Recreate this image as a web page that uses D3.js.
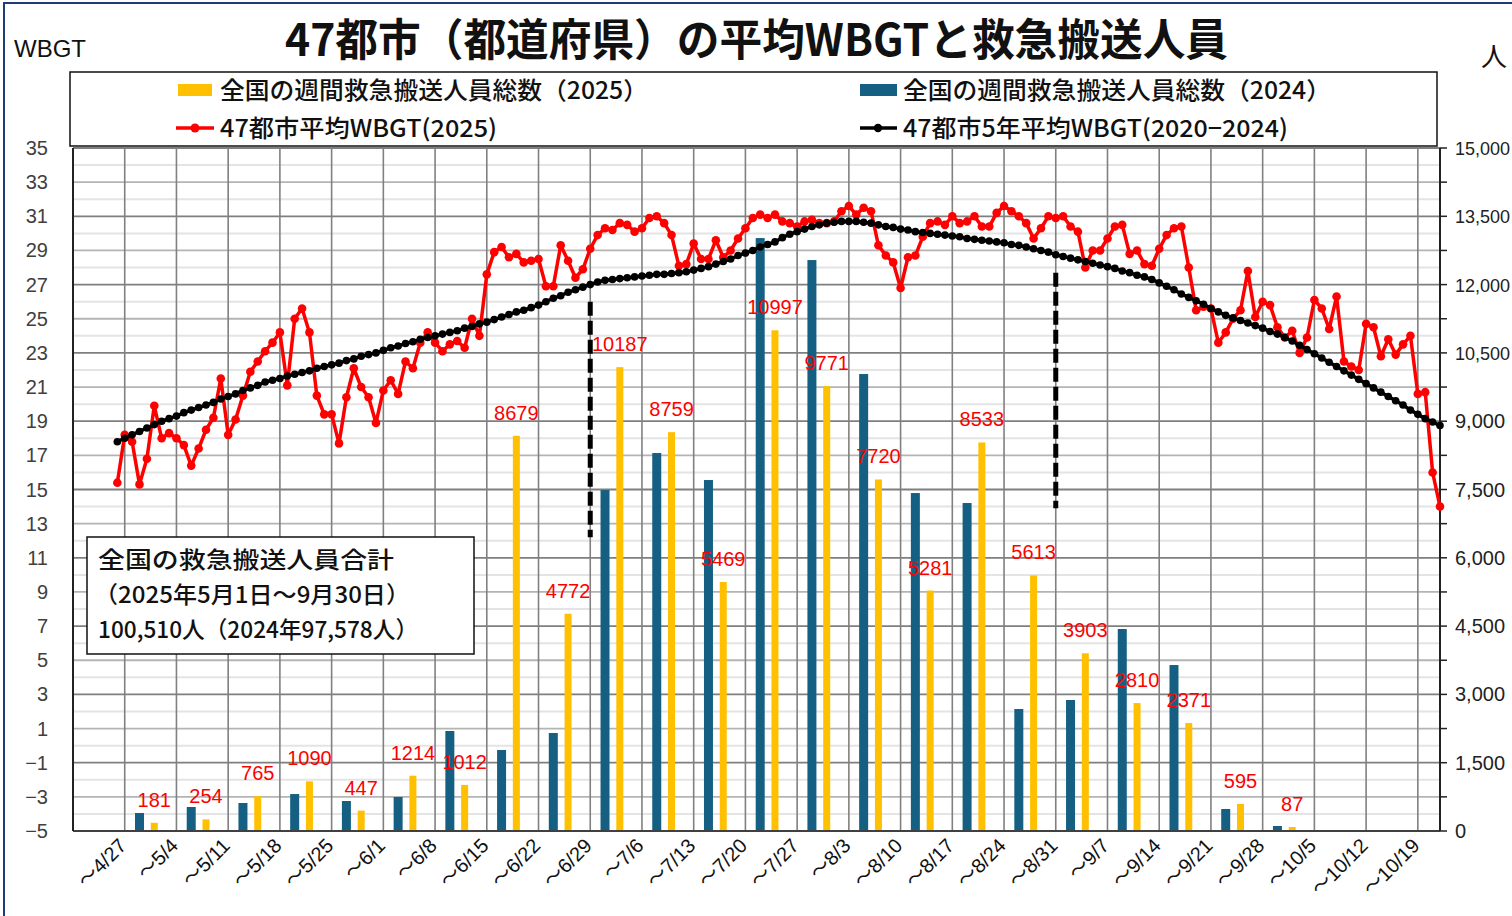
<!DOCTYPE html>
<html>
<head>
<meta charset="utf-8">
<script src="https://cdn.jsdelivr.net/npm/d3@7"></script>
<style>
body{margin:0;background:#fff}
svg{display:block}
</style>
</head>
<body>
<script>
var width = 1512, height = 916;
var plot = {left:73, right:1440, top:148, bottom:831};

// weekly categories (week ending date) and weekly emergency transport counts
var weekLabels = ["～4/27","～5/4","～5/11","～5/18","～5/25","～6/1","～6/8","～6/15","～6/22","～6/29",
  "～7/6","～7/13","～7/20","～7/27","～8/3","～8/10","～8/17","～8/24","～8/31","～9/7",
  "～9/14","～9/21","～9/28","～10/5","～10/12","～10/19"];
var transport2025 = [null,181,254,765,1090,447,1214,1012,8679,4772,
  10187,8759,5469,10997,9771,7720,5281,8533,5613,3903,
  2810,2371,595,87,null,null];
var transport2024 = [null,395,527,615,812,659,747,2196,1779,2152,
  7488,8301,7708,13022,12539,10036,7422,7203,2679,2877,
  4436,3645,483,110,null,null];

// daily WBGT, from 4/26 to 10/22
var wbgtStart = new Date(2025,3,26);
var wbgt2025 = [
  15.4,18.2,17.8,15.3,16.8,19.9,18.0,18.3,18.0,17.6,
  16.4,17.4,18.5,19.2,21.5,18.2,19.1,20.5,21.9,22.5,
  23.1,23.6,24.2,21.1,25.0,25.6,24.2,20.5,19.4,19.4,
  17.7,20.4,22.1,21.0,20.4,18.9,20.8,21.4,20.6,22.5,
  22.1,23.6,24.2,23.6,23.1,23.5,23.7,23.3,25.0,24.0,
  27.6,28.9,29.2,28.6,28.8,28.3,28.4,28.5,26.9,26.9,
  29.3,28.4,27.4,27.9,29.1,29.9,30.3,30.2,30.6,30.5,
  30.1,30.3,30.9,31.0,30.6,29.9,28.1,28.2,29.4,28.5,
  28.5,29.6,28.6,29.0,29.7,30.3,30.9,31.1,30.9,31.1,
  30.7,30.6,30.4,30.7,30.8,30.6,30.6,30.7,31.3,31.6,
  31.1,31.5,31.3,29.3,28.7,28.3,26.8,28.6,28.7,29.8,
  30.6,30.7,30.5,31.0,30.6,30.7,31.0,30.4,30.4,31.2,
  31.6,31.3,31.0,30.6,29.7,30.3,31.0,30.9,31.0,30.4,
  30.1,28.0,29.0,29.0,29.7,30.4,30.5,28.8,29.0,28.2,
  28.1,29.1,29.9,30.3,30.4,28.0,25.5,25.7,25.6,23.6,
  24.2,25.0,25.5,27.8,25.1,26.0,25.8,24.5,23.9,24.3,
  23.0,23.9,26.1,25.6,24.4,26.3,22.5,22.2,22.0,24.7,
  24.5,22.8,23.8,22.9,23.5,24.0,20.6,20.7,16.0,14.0];
var wbgt5yr = [
  17.8,18.0,18.2,18.4,18.6,18.8,19.0,19.15,19.3,19.5,
  19.65,19.8,19.95,20.1,20.3,20.45,20.6,20.8,20.95,21.1,
  21.3,21.4,21.5,21.65,21.75,21.85,21.95,22.1,22.2,22.3,
  22.4,22.55,22.65,22.8,22.9,23.0,23.15,23.3,23.4,23.55,
  23.65,23.8,23.9,24.0,24.1,24.2,24.3,24.45,24.55,24.7,
  24.8,24.95,25.1,25.25,25.4,25.5,25.65,25.8,26.0,26.2,
  26.35,26.55,26.7,26.85,27.0,27.15,27.25,27.3,27.35,27.4,
  27.45,27.5,27.55,27.6,27.6,27.65,27.7,27.75,27.85,27.95,
  28.05,28.2,28.35,28.5,28.7,28.85,29.0,29.2,29.35,29.5,
  29.75,29.95,30.1,30.25,30.4,30.5,30.6,30.65,30.7,30.7,
  30.7,30.65,30.6,30.5,30.4,30.35,30.25,30.2,30.1,30.05,
  30.0,29.95,29.9,29.85,29.8,29.7,29.65,29.6,29.55,29.5,
  29.45,29.35,29.3,29.2,29.1,29.0,28.9,28.75,28.65,28.55,
  28.45,28.35,28.25,28.15,28.05,27.95,27.8,27.7,27.55,27.45,
  27.3,27.1,26.9,26.7,26.45,26.25,26.05,25.85,25.6,25.4,
  25.2,25.05,24.9,24.75,24.6,24.45,24.25,24.1,23.9,23.7,
  23.45,23.2,22.95,22.7,22.45,22.2,21.95,21.7,21.45,21.2,
  20.95,20.7,20.45,20.2,19.95,19.65,19.4,19.15,18.95,18.75];

var leftTicks = d3.range(-5, 36, 2);
var rightTicks = d3.range(0, 15001, 1500);
var boundaryDates = [new Date(2025,5,29), new Date(2025,7,31)];
var boundaryWbgt = [[26.0,12.2],[27.7,13.9]];

var jp = "'Noto Sans CJK JP','Noto Sans',sans-serif";
var num = "'Liberation Sans',Arial,'Noto Sans CJK JP',sans-serif";

var svg = d3.select("body").append("svg")
  .attr("width", width).attr("height", height);

svg.append("rect").attr("width", width).attr("height", height).attr("fill", "#fff");
// outer frame
svg.append("rect").attr("x", 4).attr("y", 3).attr("width", width + 20).attr("height", height + 20)
  .attr("fill", "none").attr("stroke", "#1f3b7a").attr("stroke-width", 2);

var x = d3.scaleTime()
  .domain([new Date(2025,3,20), new Date(2025,9,22)])
  .range([plot.left, plot.right]);
var y = d3.scaleLinear().domain([-5, 35]).range([plot.bottom, plot.top]);
var y2 = d3.scaleLinear().domain([0, 15000]).range([plot.bottom, plot.top]);

var weekEnds = weekLabels.map(function(d, i){ return d3.timeDay.offset(new Date(2025,3,27), 7*i); });

// grid
var grid = svg.append("g");
grid.selectAll(".minor").data(d3.range(-4, 35, 2)).enter().append("line")
  .attr("x1", plot.left).attr("x2", plot.right)
  .attr("y1", function(d){ return y(d); }).attr("y2", function(d){ return y(d); })
  .attr("stroke", "#e4e4e4").attr("stroke-width", 2);
grid.selectAll(".major").data(leftTicks).enter().append("line")
  .attr("x1", plot.left).attr("x2", plot.right)
  .attr("y1", function(d){ return y(d); }).attr("y2", function(d){ return y(d); })
  .attr("stroke", function(d){ return ((d + 5) % 4 === 0) ? "#7f7f7f" : "#b4b4b4"; })
  .attr("stroke-width", 1.8);
grid.selectAll(".vert").data(weekEnds).enter().append("line")
  .attr("x1", function(d){ return x(d); }).attr("x2", function(d){ return x(d); })
  .attr("y1", plot.top).attr("y2", plot.bottom)
  .attr("stroke", "#808080").attr("stroke-width", 1.6);

// bars: 2024 mid-week, 2025 two days later
var bars = svg.append("g");
weekEnds.forEach(function(we, i){
  if (transport2024[i] != null) {
    bars.append("rect")
      .attr("x", x(d3.timeDay.offset(we, -5)) - 4.5)
      .attr("y", y2(transport2024[i]))
      .attr("width", 9)
      .attr("height", y2(0) - y2(transport2024[i]))
      .attr("fill", "#156082");
  }
  if (transport2025[i] != null) {
    bars.append("rect")
      .attr("x", x(d3.timeDay.offset(we, -3)) - 3.5)
      .attr("y", y2(transport2025[i]))
      .attr("width", 7)
      .attr("height", y2(0) - y2(transport2025[i]))
      .attr("fill", "#FFC000");
  }
});

// axes lines
svg.append("line").attr("x1", plot.left).attr("x2", plot.right).attr("y1", plot.top).attr("y2", plot.top)
  .attr("stroke", "#7f7f7f").attr("stroke-width", 1.5);
svg.append("line").attr("x1", plot.left).attr("x2", plot.right).attr("y1", plot.bottom).attr("y2", plot.bottom)
  .attr("stroke", "#404040").attr("stroke-width", 2);
svg.append("line").attr("x1", plot.left).attr("x2", plot.left).attr("y1", plot.top).attr("y2", plot.bottom)
  .attr("stroke", "#222").attr("stroke-width", 2);
svg.append("line").attr("x1", plot.right).attr("x2", plot.right).attr("y1", plot.top).attr("y2", plot.bottom)
  .attr("stroke", "#222").attr("stroke-width", 2);

// right ticks
svg.selectAll(".rtick").data(d3.range(0, 15001, 750)).enter().append("line")
  .attr("x1", plot.right).attr("x2", plot.right + 7)
  .attr("y1", function(d){ return y2(d); }).attr("y2", function(d){ return y2(d); })
  .attr("stroke", "#222").attr("stroke-width", 1.5);

// axis labels
svg.selectAll(".lt").data(leftTicks).enter().append("text")
  .attr("x", 48).attr("y", function(d){ return y(d) + 7; })
  .attr("text-anchor", "end")
  .style("font-family", num).style("font-size", "20px").attr("fill", "#404040")
  .text(d3.format("d"));
svg.selectAll(".rt").data(rightTicks).enter().append("text")
  .attr("x", 1455).attr("y", function(d){ return y2(d) + 7; })
  .style("font-family", num)
  .style("font-size", function(d){ return d >= 10000 ? "18px" : "20px"; })
  .attr("fill", "#222")
  .text(d3.format(","));
svg.selectAll(".xt").data(weekEnds).enter().append("text")
  .attr("transform", function(d){ return "translate(" + (x(d) + 3) + ",847) rotate(-45)"; })
  .attr("text-anchor", "end")
  .style("font-family", num).style("font-size", "20px").attr("fill", "#111")
  .text(function(d, i){ return weekLabels[i]; });

// lines
var days = wbgt2025.map(function(d, i){ return d3.timeDay.offset(wbgtStart, i); });
var line = d3.line().x(function(d){ return x(d[0]); }).y(function(d){ return y(d[1]); });
var red = days.map(function(d, i){ return [d, wbgt2025[i]]; });
var blk = days.map(function(d, i){ return [d, wbgt5yr[i]]; });

svg.append("path").datum(red).attr("d", line)
  .attr("fill", "none").attr("stroke", "#ff0000").attr("stroke-width", 3.5).attr("stroke-linejoin", "round");
svg.append("g").selectAll("circle").data(red).enter().append("circle")
  .attr("cx", function(d){ return x(d[0]); }).attr("cy", function(d){ return y(d[1]); })
  .attr("r", 4.3).attr("fill", "#ff0000");
svg.append("path").datum(blk).attr("d", line)
  .attr("fill", "none").attr("stroke", "#000").attr("stroke-width", 3.5);
svg.append("g").selectAll("circle").data(blk).enter().append("circle")
  .attr("cx", function(d){ return x(d[0]); }).attr("cy", function(d){ return y(d[1]); })
  .attr("r", 3.8).attr("fill", "#000");

// bar value labels
weekEnds.forEach(function(we, i){
  if (transport2025[i] == null) return;
  svg.append("text")
    .attr("x", x(d3.timeDay.offset(we, -3)))
    .attr("y", y2(transport2025[i]) - 16)
    .attr("text-anchor", "middle")
    .style("font-family", num).style("font-size", "20px").attr("fill", "#ff0000")
    .text(transport2025[i]);
});

// dashed boundary lines
boundaryDates.forEach(function(d, i){
  svg.append("line")
    .attr("x1", x(d)).attr("x2", x(d))
    .attr("y1", y(boundaryWbgt[i][0])).attr("y2", y(boundaryWbgt[i][1]))
    .attr("stroke", "#000").attr("stroke-width", 5).attr("stroke-dasharray", "14,5");
});

// summary box
var box = svg.append("g");
box.append("rect").attr("x", 87).attr("y", 537).attr("width", 387).attr("height", 117)
  .attr("fill", "#fff").attr("stroke", "#111").attr("stroke-width", 1.5);
var boxLines = ["全国の救急搬送人員合計", "（2025年5月1日～9月30日）", "100,510人（2024年97,578人）"];
var boxX = [98, 94, 98], boxW = [296, 316, 320];
boxLines.forEach(function(t, i){
  box.append("text").attr("x", boxX[i]).attr("y", 568 + i*35)
    .attr("textLength", boxW[i]).attr("lengthAdjust", "spacingAndGlyphs")
    .style("font-family", jp).style("font-size", "23px").style("font-weight", 500).attr("fill", "#111")
    .text(t);
});

// legend
var lg = svg.append("g");
lg.append("rect").attr("x", 70).attr("y", 72).attr("width", 1367).attr("height", 74)
  .attr("fill", "#fff").attr("stroke", "#111").attr("stroke-width", 1.5);
lg.append("rect").attr("x", 178).attr("y", 84).attr("width", 34).attr("height", 12).attr("fill", "#FFC000");
lg.append("rect").attr("x", 860).attr("y", 84).attr("width", 37).attr("height", 12).attr("fill", "#156082");
lg.append("line").attr("x1", 176).attr("x2", 214).attr("y1", 128).attr("y2", 128).attr("stroke", "#ff0000").attr("stroke-width", 3.5);
lg.append("circle").attr("cx", 195).attr("cy", 128).attr("r", 4.5).attr("fill", "#ff0000");
lg.append("line").attr("x1", 860).attr("x2", 897).attr("y1", 128).attr("y2", 128).attr("stroke", "#000").attr("stroke-width", 3.5);
lg.append("circle").attr("cx", 878).attr("cy", 128).attr("r", 4.2).attr("fill", "#000");
var legendItems = [
  {t:"全国の週間救急搬送人員総数（2025）", x:220, y:99, w:428},
  {t:"全国の週間救急搬送人員総数（2024）", x:903, y:99, w:428},
  {t:"47都市平均WBGT(2025)", x:220, y:137, w:277},
  {t:"47都市5年平均WBGT(2020−2024)", x:903, y:137, w:385}
];
legendItems.forEach(function(d){
  lg.append("text").attr("x", d.x).attr("y", d.y)
    .attr("textLength", d.w).attr("lengthAdjust", "spacingAndGlyphs")
    .style("font-family", jp).style("font-size", "24px").style("font-weight", 500).attr("fill", "#111")
    .text(d.t);
});

// titles
svg.append("text").attr("x", 285).attr("y", 56)
  .attr("textLength", 943).attr("lengthAdjust", "spacingAndGlyphs")
  .style("font-family", jp).style("font-size", "44px").style("font-weight", "bold").attr("fill", "#111")
  .text("47都市（都道府県）の平均WBGTと救急搬送人員");
svg.append("text").attr("x", 14).attr("y", 57)
  .style("font-family", num).style("font-size", "24px").attr("fill", "#111")
  .text("WBGT");
svg.append("text").attr("x", 1481).attr("y", 66)
  .style("font-family", jp).style("font-size", "26px").attr("fill", "#111")
  .text("人");
</script>
</body>
</html>
